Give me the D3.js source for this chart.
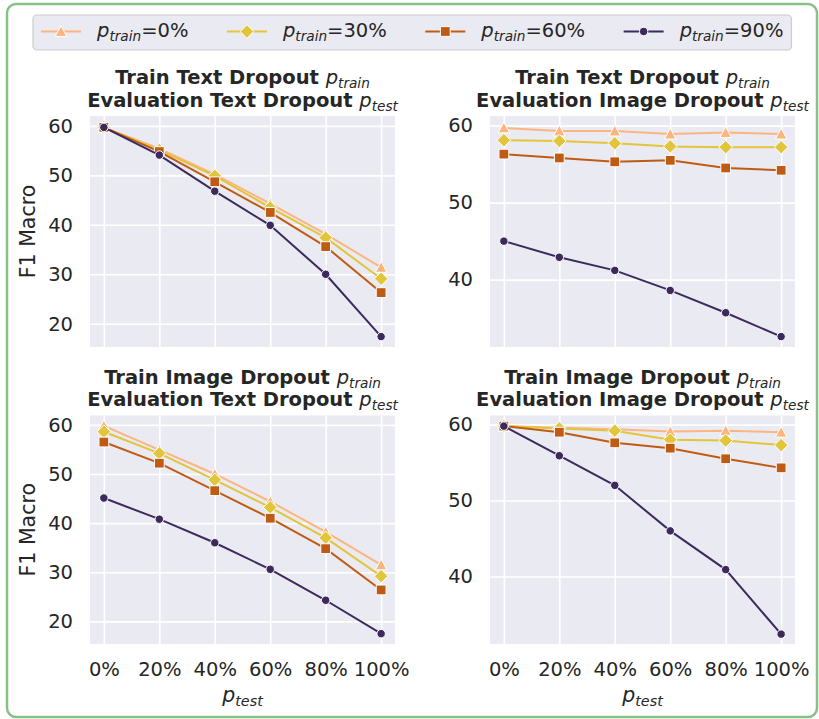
<!DOCTYPE html>
<html><head><meta charset="utf-8">
<script src="https://cdn.jsdelivr.net/npm/d3@7"></script>
<style>body{margin:0;background:#fff}svg{display:block}</style>
</head><body>
<svg id="c" width="819" height="719"></svg>
<script>
// ---------- data ----------
const xLabels = ["0%","20%","40%","60%","80%","100%"];
const trainLabels = ["0%","30%","60%","90%"];
const seriesColors = ["#fdb57f","#e1c53b","#c05b13","#3b2a5b"];
const seriesShapes = ["triangle","diamond","square","circle"];

// Train Text Dropout / Evaluation Text Dropout
const textText = [
  [59.7,55.4,50.2,44.3,38.1,31.4],
  [59.7,55.1,49.9,43.5,37.4,29.1],
  [59.7,54.8,48.7,42.5,35.6,26.3],
  [59.7,54.1,46.8,39.9,30.0,17.4]];
// Train Text Dropout / Evaluation Image Dropout
const textImage = [
  [59.7,59.3,59.3,58.9,59.1,58.9],
  [58.1,58.0,57.7,57.3,57.2,57.2],
  [56.3,55.8,55.3,55.5,54.5,54.2],
  [45.0,42.9,41.2,38.6,35.7,32.6]];
// Train Image Dropout / Evaluation Text Dropout
const imageText = [
  [59.8,54.9,50.0,44.4,38.2,31.5],
  [58.6,54.2,48.8,43.2,37.0,29.2],
  [56.5,52.2,46.6,41.0,34.8,26.4],
  [45.1,40.8,36.0,30.6,24.3,17.5]];
// Train Image Dropout / Evaluation Image Dropout
const imageImage = [
  [59.8,59.6,59.4,59.1,59.2,59.0],
  [59.8,59.5,59.2,58.0,57.9,57.3],
  [59.8,59.0,57.6,56.9,55.5,54.3],
  [59.8,55.9,52.0,46.0,40.9,32.4]];

const yTicksA = [20,30,40,50,60];
const yTicksB = [40,50,60];
const titleTrain = ["Train Text Dropout","Train Text Dropout","Train Image Dropout","Train Image Dropout"];
const titleEval = ["Evaluation Text Dropout","Evaluation Image Dropout","Evaluation Text Dropout","Evaluation Image Dropout"];

// ---------- layout ----------
const FONT = "'DejaVu Sans', sans-serif";
const TXT = "#262626";
const FS = 19.5;
const svg = d3.select("#c").attr("font-family", FONT);

svg.append("rect").attr("x",7).attr("y",4).attr("width",810).attr("height",713)
  .attr("rx",9).attr("fill","#fff").attr("stroke","#86c285").attr("stroke-width",2.5);

const panels = [
  {data:textText,  ticks:yTicksA, domain:[15.3,62.0],  x:90,  y:116,   h:231,   bottom:false, left:true},
  {data:textImage, ticks:yTicksB, domain:[31.25,61.25],x:490, y:116,   h:231,   bottom:false, left:false},
  {data:imageText, ticks:yTicksA, domain:[15.4,61.9],  x:90,  y:415.5, h:228.5, bottom:true,  left:true},
  {data:imageImage,ticks:yTicksB, domain:[31.1,61.2],  x:490, y:415.5, h:228.5, bottom:true,  left:false}
];
const PW = 305;

function markerPath(shape){
  if (shape==="triangle"){ const s=5.8; return `M0,${-s}L${s},${s*0.85}L${-s},${s*0.85}Z`; }
  if (shape==="diamond"){ const s=6.8; return `M0,${-s}L${s},0L0,${s}L${-s},0Z`; }
  if (shape==="square"){ const s=4.9; return `M${-s},${-s}H${s}V${s}H${-s}Z`; }
  return d3.symbol(d3.symbolCircle, 56)();
}

function mathP(t, sub, size, back){
  t.append("tspan").attr("font-style","italic").attr("font-weight","normal").text("p");
  t.append("tspan").attr("font-style","italic").attr("font-weight","normal")
    .attr("font-size", size*0.7).attr("dy", size*0.22).text(sub);
  if (back) return size*0.22;
  return 0;
}

panels.forEach((p,i)=>{
  const g = svg.append("g").attr("transform",`translate(${p.x},${p.y})`);
  const x = d3.scaleLinear().domain([-0.25, 5.25]).range([0, PW]);
  const y = d3.scaleLinear().domain(p.domain).range([p.h, 0]);
  g.append("rect").attr("width",PW).attr("height",p.h).attr("fill","#eaeaf2");

  // grid
  const gx = g.append("g").attr("transform",`translate(0,${p.h})`)
    .call(d3.axisBottom(x).tickValues(d3.range(6)).tickSize(-p.h).tickFormat(""));
  const gy = g.append("g")
    .call(d3.axisLeft(y).tickValues(p.ticks).tickSize(-PW).tickFormat(""));
  [gx,gy].forEach(a=>{
    a.select(".domain").remove();
    a.selectAll("line").attr("stroke","#fff").attr("stroke-width",1.6);
  });

  // y tick labels
  const ly = g.append("g").call(d3.axisLeft(y).tickValues(p.ticks).tickSize(0).tickPadding(17).tickFormat(d=>d));
  ly.select(".domain").remove();
  ly.selectAll("text").attr("font-size",FS).attr("fill",TXT).attr("font-family",FONT);

  if (p.bottom){
    const lx = g.append("g").attr("transform",`translate(0,${p.h})`)
      .call(d3.axisBottom(x).tickValues(d3.range(6)).tickSize(0).tickPadding(18).tickFormat(d=>xLabels[d]));
    lx.select(".domain").remove();
    lx.selectAll("text").attr("font-size",FS).attr("fill",TXT).attr("font-family",FONT);
    const xl = g.append("text").attr("x",PW/2).attr("y",p.h+57.5).attr("text-anchor","middle")
      .attr("font-size",20.5).attr("fill",TXT);
    mathP(xl,"test",20.5);
  }
  if (p.left){
    g.append("text").attr("transform",`translate(${-55},${p.h/2}) rotate(-90)`)
      .attr("text-anchor","middle").attr("font-size",20.5).attr("fill",TXT).text("F1 Macro");
  }

  // titles
  const t1 = g.append("text").attr("x",PW/2).attr("y",-32).attr("text-anchor","middle")
    .attr("font-size",FS).attr("font-weight","bold").attr("fill",TXT);
  t1.append("tspan").text(titleTrain[i]+" ");
  mathP(t1,"train",FS);
  const t2 = g.append("text").attr("x",PW/2).attr("y",-9.5).attr("text-anchor","middle")
    .attr("font-size",FS).attr("font-weight","bold").attr("fill",TXT);
  t2.append("tspan").text(titleEval[i]+" ");
  mathP(t2,"test",FS);

  // series
  const line = d3.line().x((d,j)=>x(j)).y(d=>y(d));
  p.data.forEach((vals,k)=>{
    g.append("path").datum(vals).attr("d",line).attr("fill","none")
      .attr("stroke",seriesColors[k]).attr("stroke-width",2);
    g.selectAll(null).data(vals).enter().append("path")
      .attr("d",markerPath(seriesShapes[k]))
      .attr("transform",(d,j)=>`translate(${x(j)},${y(d)})`)
      .attr("fill",seriesColors[k]).attr("stroke","#fff").attr("stroke-width",1);
  });
});

// legend
const lg = svg.append("g");
const lbox = lg.append("rect").attr("x",33).attr("y",15).attr("height",35).attr("rx",4)
  .attr("fill","#eaeaf2").attr("stroke","#cccccc").attr("stroke-width",1.2);
let cx = 41;
trainLabels.forEach((lab,k)=>{
  const e = lg.append("g");
  e.append("line").attr("x1",cx).attr("x2",cx+40).attr("y1",31.5).attr("y2",31.5)
    .attr("stroke",seriesColors[k]).attr("stroke-width",2);
  e.append("path").attr("d",markerPath(seriesShapes[k])).attr("transform",`translate(${cx+20},31.5)`)
    .attr("fill",seriesColors[k]).attr("stroke","#fff").attr("stroke-width",1);
  const t = e.append("text").attr("x",cx+56).attr("y",37).attr("font-size",FS).attr("fill",TXT);
  const b = mathP(t,"train",FS,true);
  t.append("tspan").attr("dy",-b).text("="+lab);
  const bb = t.node().getBBox();
  cx = bb.x + bb.width + 38.5;
});
lbox.attr("width", cx - 38.5 + 8 - 33);
</script>
</body></html>
